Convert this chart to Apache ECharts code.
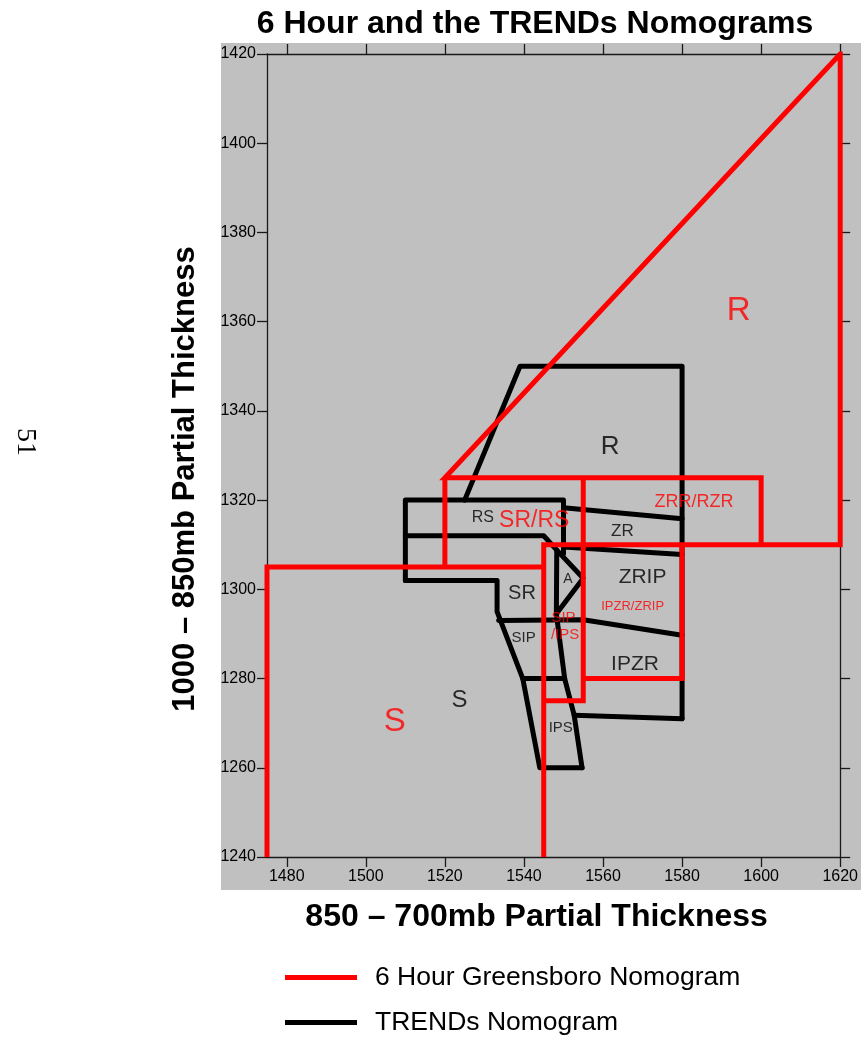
<!DOCTYPE html>
<html>
<head>
<meta charset="utf-8">
<script src="https://cdn.jsdelivr.net/npm/echarts@6/dist/echarts.min.js"></script>
<style>
html,body{margin:0;padding:0;background:#fff;}
#chart{width:861px;height:1042px;}
</style>
</head>
<body>
<div id="chart"></div>
<script>
// ---- Data ----
const xTicks = [1480, 1500, 1520, 1540, 1560, 1580, 1600, 1620];
const yTicks = [1240, 1260, 1280, 1300, 1320, 1340, 1360, 1380, 1400, 1420];

// 6 Hour Greensboro Nomogram polylines [x, y]
const greensboroLines = [
  [[1475, 1240], [1475, 1305], [1545, 1305]],
  [[1545, 1240], [1545, 1310], [1620, 1310], [1620, 1420], [1520, 1325], [1600, 1325], [1600, 1310]],
  [[1520, 1305], [1520, 1325]],
  [[1555, 1325], [1555, 1275], [1545, 1275]],
  [[1555, 1280], [1580, 1280], [1580, 1310]]
];

// TRENDs Nomogram polylines [x, y]
const trendsLines = [
  [[1510, 1302], [1510, 1320], [1550, 1320], [1550, 1308]],
  [[1525, 1320], [1539, 1350], [1580, 1350], [1580, 1271]],
  [[1510, 1312], [1545, 1312], [1548.3, 1308.8], [1555, 1302.5], [1548.2, 1294.5]],
  [[1548.3, 1308.8], [1548.2, 1294.5], [1550.3, 1280], [1552.7, 1271.8], [1554.7, 1260]],
  [[1550, 1309.5], [1580, 1307.8]],
  [[1550, 1318.3], [1580, 1315.8]],
  [[1533.6, 1293], [1555, 1293.2], [1580, 1289.7]],
  [[1510, 1302], [1533.2, 1302], [1533.2, 1295], [1539.7, 1280], [1544, 1260], [1554.7, 1260]],
  [[1539.7, 1280], [1550.3, 1280]],
  [[1552.7, 1271.8], [1580, 1271]]
];

// Region labels
const greensboroLabelNames = ['R', 'S', 'SR/RS', 'ZRR/RZR', 'IPZR/ZRIP', 'SIP', '/IPS'];
const greensboroLabelX = [1594.3, 1507.3, 1542.6, 1583.0, 1567.5, 1550.0, 1550.4];
const greensboroLabelY = [1362.5, 1270.3, 1315.5, 1319.6, 1296.1, 1293.7, 1289.8];

const trendsLabelNames = ['R', 'RS', 'ZR', 'ZRIP', 'A', 'SR', 'SIP', 'IPZR', 'S', 'IPS'];
const trendsLabelX = [1561.8, 1529.6, 1564.9, 1570.0, 1551.1, 1539.5, 1539.9, 1568.1, 1523.7, 1549.3];
const trendsLabelY = [1331.9, 1316.1, 1313.1, 1302.8, 1302.3, 1299.1, 1289.2, 1283.3, 1275.0, 1268.9];

// ---- Styles ----
const FONT = '"Liberation Sans", Arial, Helvetica, sans-serif';
const RED = '#ff0000';
const BLACK = '#000000';
const greensboroLabelSize = {'R': 33, 'S': 33, 'SR/RS': 23, 'ZRR/RZR': 18, 'IPZR/ZRIP': 13, 'SIP': 15, '/IPS': 15};
const trendsLabelSize = {'R': 26, 'RS': 16, 'ZR': 17, 'ZRIP': 21, 'A': 14, 'SR': 20, 'SIP': 15, 'IPZR': 21, 'S': 24, 'IPS': 15};

const NAME_G = '6 Hour Greensboro Nomogram';
const NAME_T = 'TRENDs Nomogram';

const series = [];
trendsLines.forEach(function (pts) {
  series.push({
    name: NAME_T, type: 'line', xAxisIndex: 0, yAxisIndex: 0,
    data: pts, showSymbol: false, symbol: 'none', color: BLACK, z: 3,
    lineStyle: {width: 5, color: BLACK, cap: 'round', join: 'round'},
    silent: true, animation: false
  });
});
greensboroLines.forEach(function (pts) {
  series.push({
    name: NAME_G, type: 'line', xAxisIndex: 0, yAxisIndex: 0,
    data: pts, showSymbol: false, symbol: 'none', color: RED, z: 4,
    lineStyle: {width: 5, color: RED, cap: 'butt', join: 'miter'},
    silent: true, animation: false
  });
});

function labelSeries(id, names, xs, ys, sizes, color) {
  return {
    id: id, name: id, type: 'scatter', symbolSize: 0, z: 6, silent: true, animation: false,
    data: names.map(function (n, i) {
      return {
        name: n, value: [xs[i], ys[i]],
        label: {fontSize: sizes[n]}
      };
    }),
    label: {
      show: true, position: 'inside', formatter: '{b}', color: color,
      fontFamily: FONT, align: 'center', verticalAlign: 'middle'
    }
  };
}
series.push(labelSeries('trendsLabels', trendsLabelNames, trendsLabelX, trendsLabelY, trendsLabelSize, BLACK));
series.push(labelSeries('greensboroLabels', greensboroLabelNames, greensboroLabelX, greensboroLabelY, greensboroLabelSize, RED));

const axisLineStyle = {show: true, lineStyle: {color: '#1a1a1a', width: 1.3}};
const tickStyle = {show: true, length: 10, inside: false, lineStyle: {color: '#1a1a1a', width: 1.3}};
const plainNumber = function (v) { return String(v); };

const chart = echarts.init(document.getElementById('chart'), null, {renderer: 'canvas'});
chart.setOption({
  animation: false,
  backgroundColor: '#ffffff',
  title: {
    text: '6 Hour and the TRENDs Nomograms',
    left: 530, top: 3, textAlign: 'center',
    textStyle: {fontFamily: FONT, fontWeight: 'bold', fontSize: 32, color: '#000'}
  },
  graphic: [
    {type: 'rect', z: -100, silent: true, shape: {x: 221, y: 43, width: 640, height: 847}, style: {fill: '#c0c0c0'}},
    {type: 'text', silent: true, x: 25, y: 442, rotation: -Math.PI / 2,
     style: {text: '51', fontFamily: '"Liberation Serif", "Times New Roman", serif', fontSize: 28, fill: '#000', align: 'center', verticalAlign: 'middle'}}
  ],
  legend: {
    orient: 'vertical', left: 285, top: 964, padding: 0,
    data: [NAME_G, NAME_T],
    icon: 'rect', itemWidth: 72, itemHeight: 5, itemGap: 18,
    textStyle: {fontFamily: FONT, fontSize: 26.5, color: '#000', padding: [0, 0, 0, 13]},
    selectedMode: false
  },
  grid: {left: 267, right: 19.5, top: 54, bottom: 185, containLabel: false},
  xAxis: [
    {
      type: 'value', position: 'bottom', min: 1475, max: 1620,
      name: '850 – 700mb Partial Thickness', nameLocation: 'middle', nameGap: 44,
      nameTextStyle: {fontFamily: FONT, fontWeight: 'bold', fontSize: 32, color: '#000', padding: [0, 34, 0, 0]},
      axisLine: axisLineStyle,
      axisTick: Object.assign({}, tickStyle, {customValues: xTicks}),
      axisLabel: {customValues: xTicks, formatter: plainNumber, fontFamily: FONT, fontSize: 16, color: '#000', margin: 12},
      splitLine: {show: false}
    },
    {
      type: 'value', position: 'top', min: 1475, max: 1620,
      axisLine: axisLineStyle,
      axisTick: Object.assign({}, tickStyle, {customValues: xTicks}),
      axisLabel: {show: false},
      splitLine: {show: false}
    }
  ],
  yAxis: [
    {
      type: 'value', position: 'left', min: 1240, max: 1420, interval: 20,
      name: '1000 – 850mb Partial Thickness', nameLocation: 'middle', nameGap: 66, nameRotate: 90,
      nameTextStyle: {fontFamily: FONT, fontWeight: 'bold', fontSize: 31, color: '#000', padding: [0, 47, 0, 0]},
      axisLine: axisLineStyle,
      axisTick: tickStyle,
      axisLabel: {formatter: plainNumber, fontFamily: FONT, fontSize: 16, color: '#000', margin: 11},
      splitLine: {show: false}
    },
    {
      type: 'value', position: 'right', min: 1240, max: 1420, interval: 20,
      axisLine: axisLineStyle,
      axisTick: tickStyle,
      axisLabel: {show: false},
      splitLine: {show: false}
    }
  ],
  series: series
});
</script>
</body>
</html>
